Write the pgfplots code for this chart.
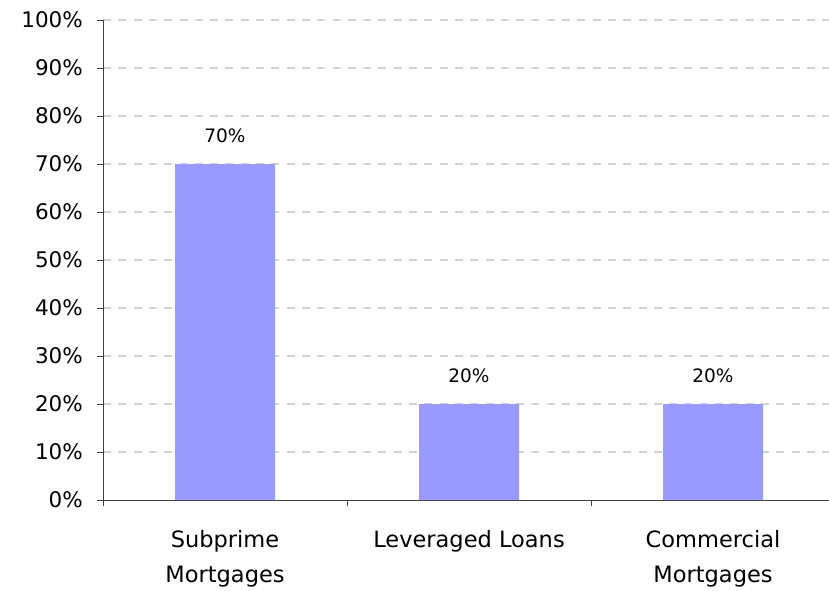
\documentclass[border=0pt]{standalone}
\usepackage{pgfplots}
\pgfplotsset{compat=1.18}
\usepackage{fontspec}
\setmainfont{DejaVu Sans}
\definecolor{barc}{HTML}{9999FF}
\definecolor{gridc}{HTML}{D2D2D2}
\definecolor{axc}{HTML}{404040}
\begin{document}
\begin{tikzpicture}
\begin{axis}[
  scale only axis, width=726pt, height=480pt,
  xmin=-0.5, xmax=2.4754, ymin=0, ymax=100,
  axis x line*=bottom, axis y line*=left,
  axis line style={axc, line width=0.9pt},
  ytick={10,20,...,100},
  yticklabels={10\%,20\%,30\%,40\%,50\%,60\%,70\%,80\%,90\%,100\%},
  extra y ticks={0}, extra y tick labels={0\%},
  extra y tick style={grid=none},
  yticklabel style={font=\fontsize{21.5}{24}\selectfont, anchor=east, inner sep=0pt, xshift=-14pt},
  ymajorgrids, grid style={gridc, dash pattern=on 8pt off 7.3pt, line width=1.3pt},
  xtick={-0.5,0.5,1.5}, xticklabels={},
  extra x ticks={0,1,2},
  extra x tick labels={Subprime\\Mortgages, Leveraged Loans, Commercial\\Mortgages},
  extra x tick style={major tick length=0pt, grid=none,
    tick label style={font=\fontsize{22.5}{35}\selectfont, align=center, anchor=north, inner sep=0pt, yshift=-30pt}},
  tick align=outside, major tick length=6pt,
  tick style={axc, line width=0.9pt},
]
\addplot[ybar, bar width=100pt, fill=barc, draw=none,
  nodes near coords={\pgfmathprintnumber[assume math mode=true]{\pgfplotspointmeta}\%},
  every node near coord/.append style={font=\fontsize{18.5}{20}\selectfont, text=black, anchor=south, inner sep=0pt, yshift=21pt}]
  coordinates {(0,70) (1,20) (2,20)};
\end{axis}
\pgfresetboundingbox
\path[use as bounding box] (current axis.south west) ++(-103pt,-90pt) rectangle ++(829pt,590pt);
\end{tikzpicture}
\end{document}
